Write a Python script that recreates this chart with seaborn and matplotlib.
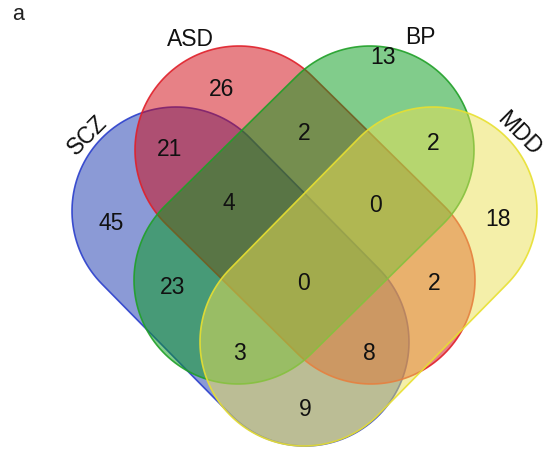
import numpy as np
import matplotlib
matplotlib.use("Agg")
import matplotlib.pyplot as plt
from matplotlib.patches import Polygon
import seaborn as sns

# set names and region counts
sets = ["SCZ", "ASD", "BP", "MDD"]
regions = ["SCZ", "ASD", "BP", "MDD",
           "SCZ&ASD", "ASD&BP", "BP&MDD", "SCZ&MDD", "ASD&MDD", "SCZ&BP",
           "SCZ&ASD&BP", "ASD&BP&MDD", "SCZ&BP&MDD", "SCZ&ASD&MDD",
           "SCZ&ASD&BP&MDD"]
counts = [45, 26, 13, 18,
          21, 2, 2, 9, 2, 23,
          4, 0, 3, 8,
          0]

fill_colors = ["#1937af", "#d1050f", "#059b19", "#ebe155"]
edge_colors = ["#2b3fcc", "#e0202a", "#20a028", "#e8e030"]

# geometry (pixel space) for each capsule: two cap centres + radius
caps = {
    "SCZ": ((176, 211), (305, 342)),
    "ASD": ((239, 150), (371, 280)),
    "BP": ((370, 150), (238, 280)),
    "MDD": ((433, 211), (304, 342)),
}
radius = 104

label_pos = {
    "SCZ": (88, 135, 45), "ASD": (190, 40, 0),
    "BP": (420, 38, 0), "MDD": (519, 134, -45),
}
region_pos = {
    "SCZ": (111, 224), "ASD": (222, 89), "BP": (383, 58), "MDD": (498, 219),
    "SCZ&ASD": (170, 149), "ASD&BP": (304, 133), "BP&MDD": (433, 144),
    "SCZ&MDD": (305, 410), "ASD&MDD": (434, 283), "SCZ&BP": (173, 287),
    "SCZ&ASD&BP": (229, 204), "ASD&BP&MDD": (376, 206),
    "SCZ&BP&MDD": (239, 353), "SCZ&ASD&MDD": (369, 353),
    "SCZ&ASD&BP&MDD": (304, 283),
}


def capsule(p1, p2, r, n=80):
    p1 = np.array(p1, float)
    p2 = np.array(p2, float)
    d = np.arctan2(p2[1] - p1[1], p2[0] - p1[0])
    a1 = np.linspace(d + np.pi / 2, d + 3 * np.pi / 2, n)
    a2 = np.linspace(d - np.pi / 2, d + np.pi / 2, n)
    pts1 = np.c_[p1[0] + r * np.cos(a1), p1[1] + r * np.sin(a1)]
    pts2 = np.c_[p2[0] + r * np.cos(a2), p2[1] + r * np.sin(a2)]
    return np.vstack([pts1, pts2])


sns.set_theme(style="white")
plt.rcParams["font.family"] = ["Liberation Sans", "DejaVu Sans"]

fig = plt.figure(figsize=(5.44, 4.53), dpi=100)
ax = fig.add_axes([0, 0, 1, 1])
ax.set_xlim(0, 544)
ax.set_ylim(453, 0)
ax.set_aspect("equal")
ax.axis("off")

for name, fc, ec in zip(sets, fill_colors, edge_colors):
    p1, p2 = caps[name]
    pts = capsule(p1, p2, radius)
    ax.add_patch(Polygon(pts, closed=True, facecolor=fc, alpha=0.5,
                         edgecolor="none"))
    ax.add_patch(Polygon(pts, closed=True, facecolor="none",
                         edgecolor=ec, lw=1.2, alpha=0.9))

for name in sets:
    x, y, rot = label_pos[name]
    ax.text(x, y, name, fontsize=16.5, rotation=rot, ha="center",
            va="center", color="#111111")

for reg, c in zip(regions, counts):
    x, y = region_pos[reg]
    ax.text(x, y, str(c), fontsize=16.5, ha="center", va="center",
            color="#111111")

ax.text(12, 14, "a", fontsize=15.5, ha="left", va="center", color="#222222")

fig.savefig("out.png", dpi=100)
